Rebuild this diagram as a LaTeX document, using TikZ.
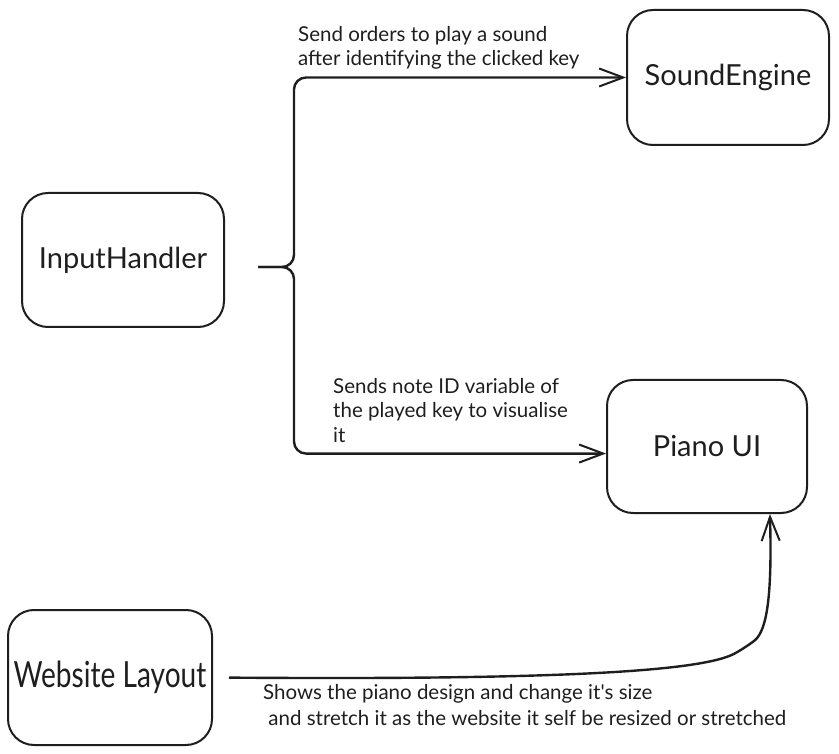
\documentclass[tikz,border=0pt]{standalone}
\usepackage{fontspec}
\setmainfont{Lato}
\newfontfamily\narrowfont[FakeStretch=0.78]{Lato}
\usetikzlibrary{arrows.meta}
\definecolor{ink}{HTML}{1E1E1E}

\begin{document}
\begin{tikzpicture}[x=1pt,y=-1pt,ink,
    wire/.style={line width=2.4pt,rounded corners=12pt,
      -{Straight Barb[length=24pt,width=18pt,line width=2pt]}},
    note/.style={anchor=north west,align=left,inner sep=0pt,
      font=\fontsize{20.5}{24.5}\selectfont}]
    \useasboundingbox (0,0) rectangle (839,754);
    \begin{scope}[every node/.style={draw,line width=2pt,rounded corners=26pt,
        font=\fontsize{29}{34}\selectfont}]
        \node[minimum width=202pt,minimum height=135pt] (sound) at (728,77.5) {SoundEngine};
        \node[minimum width=202pt,minimum height=134pt] (input) at (123,260) {InputHandler};
        \node[minimum width=200pt,minimum height=133pt] (piano) at (707,446.5) {Piano UI};
        \node[minimum width=204pt,minimum height=135pt,inner sep=0pt,
            font=\narrowfont\fontsize{36}{40}\selectfont] (web) at (110,677.5) {Website Layout};
    \end{scope}
    \coordinate (fork) at (258,267);
    \draw[wire] (fork) -- (294,267) |- (sound.west);
    \draw[wire] (fork) -- (294,267) |- (piano.184);
    \draw[wire,shorten <=16pt] (web.east) .. controls (550,680) and (700,672) .. (745,648)
        .. controls (768,630) and (772,590) .. (piano.-47);
    \node[note] (playnote) at (298,26) {Send orders to play a sound\\after identifying the clicked key};
    \node[note] (shownote) at (333,378) {Sends note ID variable of\\the played key to visualise\\it};
    \node[note,font=\fontsize{20.5}{26}\selectfont] (sizenote) at (263,684)
        {Shows the piano design and change it\textquotesingle s size\\\ and stretch it as the website it self be resized or stretched};
\end{tikzpicture}
\end{document}
